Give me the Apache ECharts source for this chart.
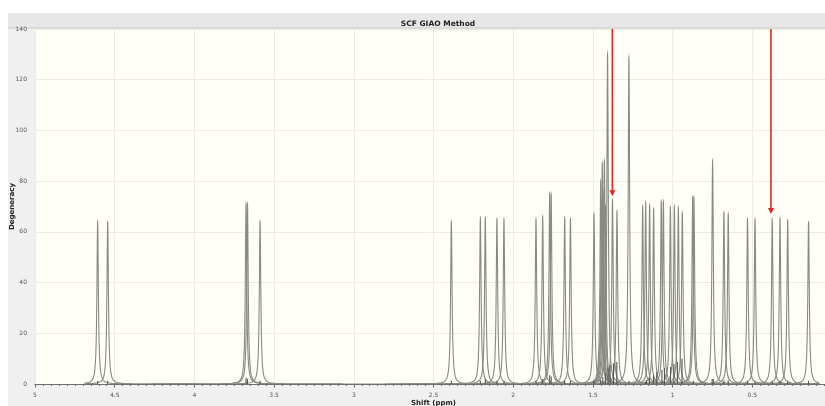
<!DOCTYPE html>
<html>
<head>
<meta charset="utf-8">
<title>SCF GIAO Method</title>
<script src="https://cdn.jsdelivr.net/npm/echarts@6/dist/echarts.min.js"></script>
<style>
  html, body { margin: 0; padding: 0; background: #fff; }
  #chart { width: 825px; height: 406px; }
</style>
</head>
<body>
<div id="chart"></div>
<script>
// peaks: shift (ppm) and height (degeneracy)
const peakShift = [
  4.607, 4.544, 3.676, 3.667, 3.588,
  2.388, 2.206, 2.175, 2.102, 2.058,
  1.857, 1.815, 1.771, 1.762, 1.677, 1.641, 1.493,
  1.451, 1.446, 1.441, 1.436, 1.428, 1.421, 1.408, 1.377, 1.349, 1.274,
  1.188, 1.169, 1.144, 1.119, 1.071, 1.058, 1.014, 0.989, 0.964, 0.939,
  0.874, 0.866, 0.749, 0.678, 0.651, 0.530, 0.483, 0.375, 0.326, 0.278, 0.147
];
const peakHeight = [
  64, 64, 71, 71, 64,
  64, 65.5, 65.5, 65, 65,
  65, 66, 75, 75, 65.5, 65, 67,
  80, 72, 87, 76, 88, 70, 130, 72.5, 68, 128.5,
  70, 71.5, 70.5, 69, 72, 72, 69.5, 70, 69.5, 67.5,
  73.5, 73.5, 88, 67.5, 67, 65, 65, 65, 65.3, 64.7, 64
];

// stick marks drawn along the baseline
const stickShift = [
  4.607, 4.544, 3.676, 3.667, 3.588,
  2.388, 2.206, 2.175, 2.102, 2.058,
  1.857, 1.815, 1.771, 1.762, 1.677, 1.641, 1.493,
  1.453, 1.438, 1.422, 1.405, 1.392, 1.371, 1.350, 1.274,
  1.170, 1.164, 1.145, 1.120, 1.099, 1.067, 1.051, 1.013, 0.992, 0.970, 0.941,
  0.870, 0.752, 0.745, 0.678, 0.651, 0.530, 0.483, 0.375, 0.326, 0.278, 0.147
];
const stickHeight = [
  1.3, 1.3, 2.5, 2, 1.3,
  1.3, 1.3, 2, 1.3, 1.3,
  1.3, 2, 3.5, 3, 1.3, 1.3, 1.3,
  1.6, 2.8, 4.3, 6.2, 7.5, 8.2, 8.7, 1.3,
  0.8, 1.6, 2.4, 3.5, 4.7, 5.5, 6.3, 6.7, 7.9, 8.7, 10,
  1.3, 2, 2, 1.5, 1.5, 1.3, 1.3, 1.3, 1.3, 1.3, 1.3
];

// red arrows: shift, start (top) and tip value
const arrowShift = [1.378, 0.383];
const arrowTop = [140, 140];
const arrowTip = [74, 67];

// range the spectrum was computed over, and the line half width
const specStart = 4.69;
const specEnd = 0.08;
const halfWidth = 0.0055;

const chart = echarts.init(document.getElementById('chart'));

function renderPeak(params, api) {
  const p = api.value(0);
  const h = api.value(1);
  const lo = Math.max(p - 0.6, specEnd);
  const hi = Math.min(p + 0.6, specStart);
  const a0 = Math.atan((lo - p) / halfWidth);
  const a1 = Math.atan((hi - p) / halfWidth);
  const pts = [];
  const n = 120;
  for (let i = 0; i <= n; i++) {
    const a = a0 + (a1 - a0) * i / n;
    const c = Math.cos(a);
    pts.push(api.coord([p + halfWidth * Math.tan(a), h * c * c]));
  }
  return {
    type: 'polyline',
    shape: { points: pts },
    style: { stroke: '#8a8a85', lineWidth: 1.1, fill: null }
  };
}

function renderStick(params, api) {
  const a = api.coord([api.value(0), 0]);
  const b = api.coord([api.value(0), api.value(1)]);
  return {
    type: 'line',
    shape: { x1: a[0], y1: a[1], x2: b[0], y2: b[1] },
    style: { stroke: '#555555', lineWidth: 1.1 }
  };
}

function renderArrow(params, api) {
  const top = api.coord([api.value(0), api.value(1)]);
  const tip = api.coord([api.value(0), api.value(2)]);
  return {
    type: 'group',
    children: [
      {
        type: 'line',
        shape: { x1: top[0], y1: top[1], x2: tip[0], y2: tip[1] - 4 },
        style: { stroke: '#e3261f', lineWidth: 1.6 }
      },
      {
        type: 'polygon',
        shape: { points: [[tip[0] - 3, tip[1] - 6], [tip[0] + 3, tip[1] - 6], [tip[0], tip[1]]] },
        style: { fill: '#e3261f' }
      }
    ]
  };
}

const option = {
  backgroundColor: '#f0f0f0',
  animation: false,
  textStyle: { fontFamily: 'DejaVu Sans' },
  title: {
    text: 'SCF GIAO Method',
    left: 433,
    top: 15,
    textAlign: 'center',
    textStyle: { fontSize: 7.5, fontWeight: 'bold', color: '#222', fontFamily: 'DejaVu Sans' }
  },
  graphic: [
    { type: 'rect', shape: { x: 0, y: 0, width: 825, height: 13 }, style: { fill: '#ffffff' }, z: -1 },
    { type: 'rect', shape: { x: 0, y: 0, width: 8, height: 406 }, style: { fill: '#ffffff' }, z: -1 },
    { type: 'rect', shape: { x: 8, y: 13, width: 817, height: 15 }, style: { fill: '#e7e7e7' }, z: -1 },
    { type: 'line', shape: { x1: 8, y1: 28, x2: 825, y2: 28 }, style: { stroke: '#c9c9c9', lineWidth: 1 }, z: -1 }
  ],
  grid: {
    left: 35,
    right: -7,
    top: 29,
    bottom: 22,
    outerBoundsMode: 'none',
    containLabel: false,
    show: true,
    backgroundColor: '#fffff7',
    borderWidth: 0
  },
  xAxis: {
    type: 'value',
    inverse: true,
    min: 0,
    max: 5,
    interval: 0.5,
    offset: 3,
    name: 'Shift (ppm)',
    nameLocation: 'middle',
    nameGap: 13,
    nameMoveOverlap: false,
    nameTextStyle: { fontSize: 7, fontWeight: 'bold', color: '#222' },
    axisLine: { show: true, lineStyle: { color: '#6e6e6e', width: 1 } },
    axisTick: { show: true, length: 3.5, lineStyle: { color: '#6e6e6e' } },
    minorTick: { show: true, splitNumber: 10, length: 2, lineStyle: { color: '#6e6e6e' } },
    axisLabel: { fontSize: 6, color: '#555', margin: 5 },
    splitLine: { show: true, lineStyle: { color: '#eeede2', width: 1 } }
  },
  yAxis: {
    type: 'value',
    min: 0,
    max: 140,
    interval: 20,
    name: 'Degeneracy',
    nameLocation: 'middle',
    nameGap: 19,
    nameMoveOverlap: false,
    nameTextStyle: { fontSize: 7, fontWeight: 'bold', color: '#222' },
    axisLine: { show: true, lineStyle: { color: '#9c9c9c', width: 2 } },
    axisTick: { show: true, length: 3, lineStyle: { color: '#888' } },
    axisLabel: { fontSize: 6, color: '#555', margin: 8 },
    splitLine: { show: true, lineStyle: { color: '#eeede2', width: 1 } }
  },
  series: [
    {
      type: 'custom',
      name: 'spectrum',
      clip: true,
      renderItem: renderPeak,
      encode: { x: 0, y: 1 },
      data: peakShift.map((s, i) => [s, peakHeight[i]])
    },
    {
      type: 'custom',
      name: 'sticks',
      clip: true,
      renderItem: renderStick,
      encode: { x: 0, y: 1 },
      data: stickShift.map((s, i) => [s, stickHeight[i]])
    },
    {
      type: 'custom',
      name: 'arrows',
      clip: true,
      renderItem: renderArrow,
      encode: { x: 0, y: [1, 2] },
      data: arrowShift.map((s, i) => [s, arrowTop[i], arrowTip[i]])
    }
  ]
};

chart.setOption(option);
</script>
</body>
</html>
